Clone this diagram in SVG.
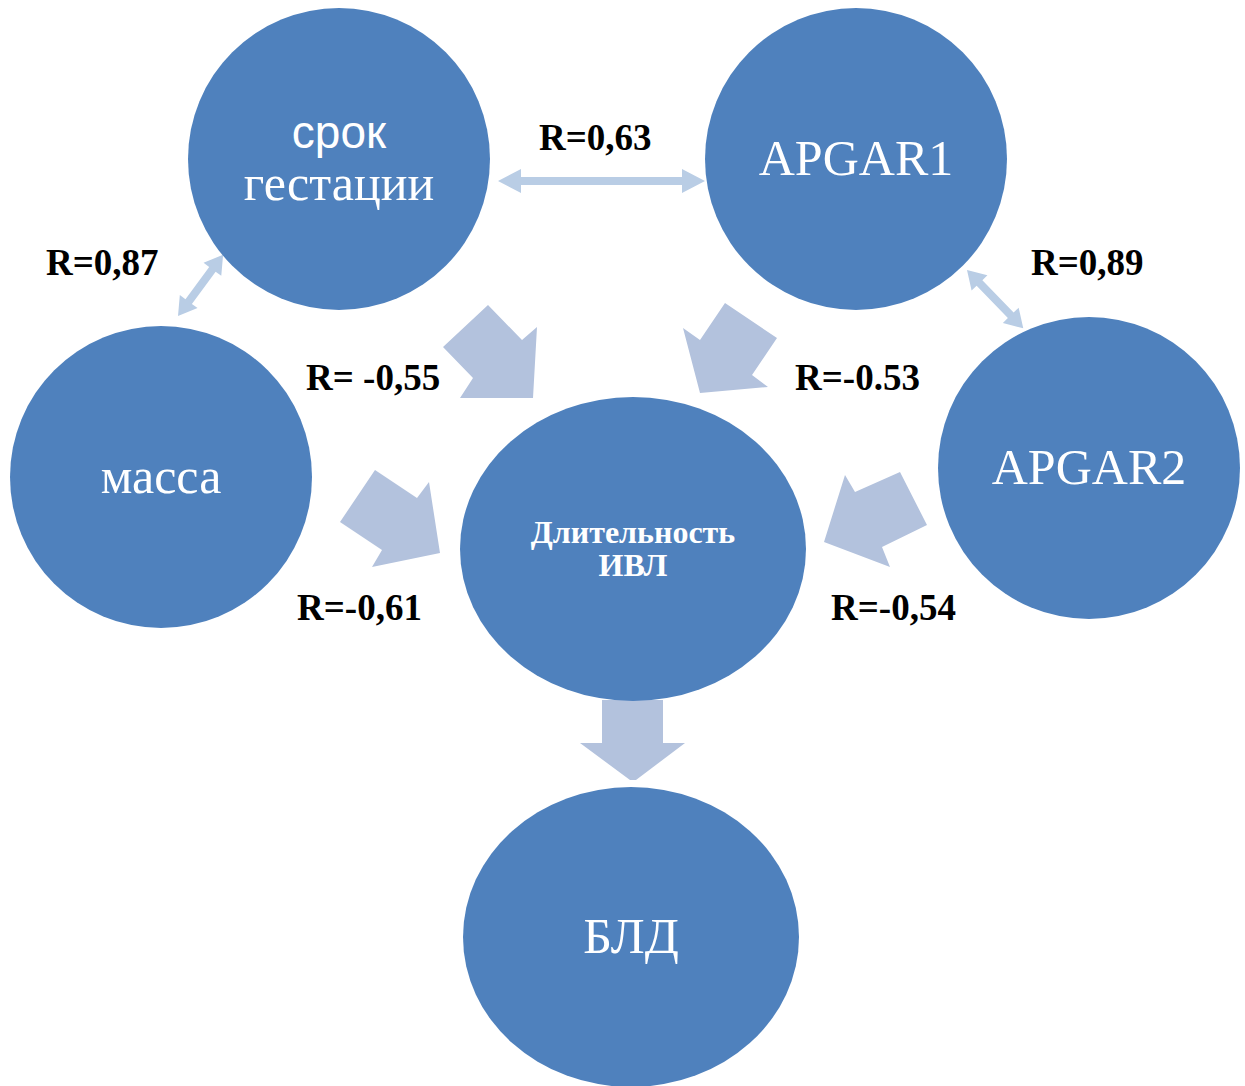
<svg xmlns="http://www.w3.org/2000/svg" width="1245" height="1086" viewBox="0 0 1245 1086">
<style>
.node{fill:#4F81BD}
.blk{fill:#B3C2DD}
.dbl{fill:#B9CDE5}
.nt{fill:#FFFFFF;font-family:"Liberation Serif","Times New Roman",serif;font-size:50px;text-anchor:middle}
.ns{fill:#FFFFFF;font-family:"Liberation Sans",Arial,sans-serif;font-size:46px;text-anchor:middle}
.nb{fill:#FFFFFF;font-family:"Liberation Serif","Times New Roman",serif;font-size:32px;font-weight:bold;text-anchor:middle}
.lb{fill:#000000;font-family:"Liberation Serif","Times New Roman",serif;font-size:37px;font-weight:bold}
</style>
<rect width="1245" height="1086" fill="#FFFFFF"/>
<g id="connectors">
<polygon class="dbl" transform="translate(498,181)" points="0,0 23,-12 23,-4 184,-4 184,-12 207,0 184,12 184,4 23,4 23,12"/>
<polygon class="dbl" transform="translate(178,316) rotate(-53.6)" points="0,0 18,-11 18,-4 58,-4 58,-11 76,0 58,11 58,4 18,4 18,11"/>
<polygon class="dbl" transform="translate(967,270) rotate(46)" points="0,0 18,-11 18,-4 63,-4 63,-11 81,0 63,11 63,4 18,4 18,11"/>
<polygon class="blk" points="488,305 522,340 537,327 533,398 460,398 473,378 443,347"/>
<polygon class="blk" points="725,303 777,338 752,375 768,387 700,393 683,328 700,340"/>
<polygon class="blk" points="375,470 417,498 429,482 440,553 372,567 382,550 340,522"/>
<polygon class="blk" points="900,472 927,525 882,547 890,567 824,542 845,475 855,492"/>
<polygon class="blk" points="602,700 663,700 663,743 685,743 636,780 630,780 580,743 602,743"/>
</g>
<g id="node-srok">
<circle class="node" cx="339" cy="159" r="151"/>
<text class="ns" x="339" y="148">срок</text>
<text class="nt" x="339" y="200">гестации</text>
</g>
<g id="node-apgar1">
<circle class="node" cx="856" cy="159" r="151"/>
<text class="nt" x="856" y="175">APGAR1</text>
</g>
<g id="node-massa">
<circle class="node" cx="161" cy="477" r="151"/>
<text class="nt" x="161" y="493">масса</text>
</g>
<g id="node-apgar2">
<circle class="node" cx="1089" cy="468" r="151"/>
<text class="nt" x="1089" y="484">APGAR2</text>
</g>
<g id="node-ivl">
<ellipse class="node" cx="633" cy="549" rx="173" ry="152"/>
<text class="nb" x="633" y="543">Длительность</text>
<text class="nb" x="633" y="576">ИВЛ</text>
</g>
<g id="node-bld">
<ellipse class="node" cx="631" cy="937" rx="168" ry="150"/>
<text class="nt" x="631" y="953">БЛД</text>
</g>
<g id="labels">
<text class="lb" x="539" y="150">R=0,63</text>
<text class="lb" x="46" y="275">R=0,87</text>
<text class="lb" x="1031" y="275">R=0,89</text>
<text class="lb" x="306" y="390">R= -0,55</text>
<text class="lb" x="795" y="390">R=-0.53</text>
<text class="lb" x="297" y="620">R=-0,61</text>
<text class="lb" x="831" y="620">R=-0,54</text>
</g>
</svg>
